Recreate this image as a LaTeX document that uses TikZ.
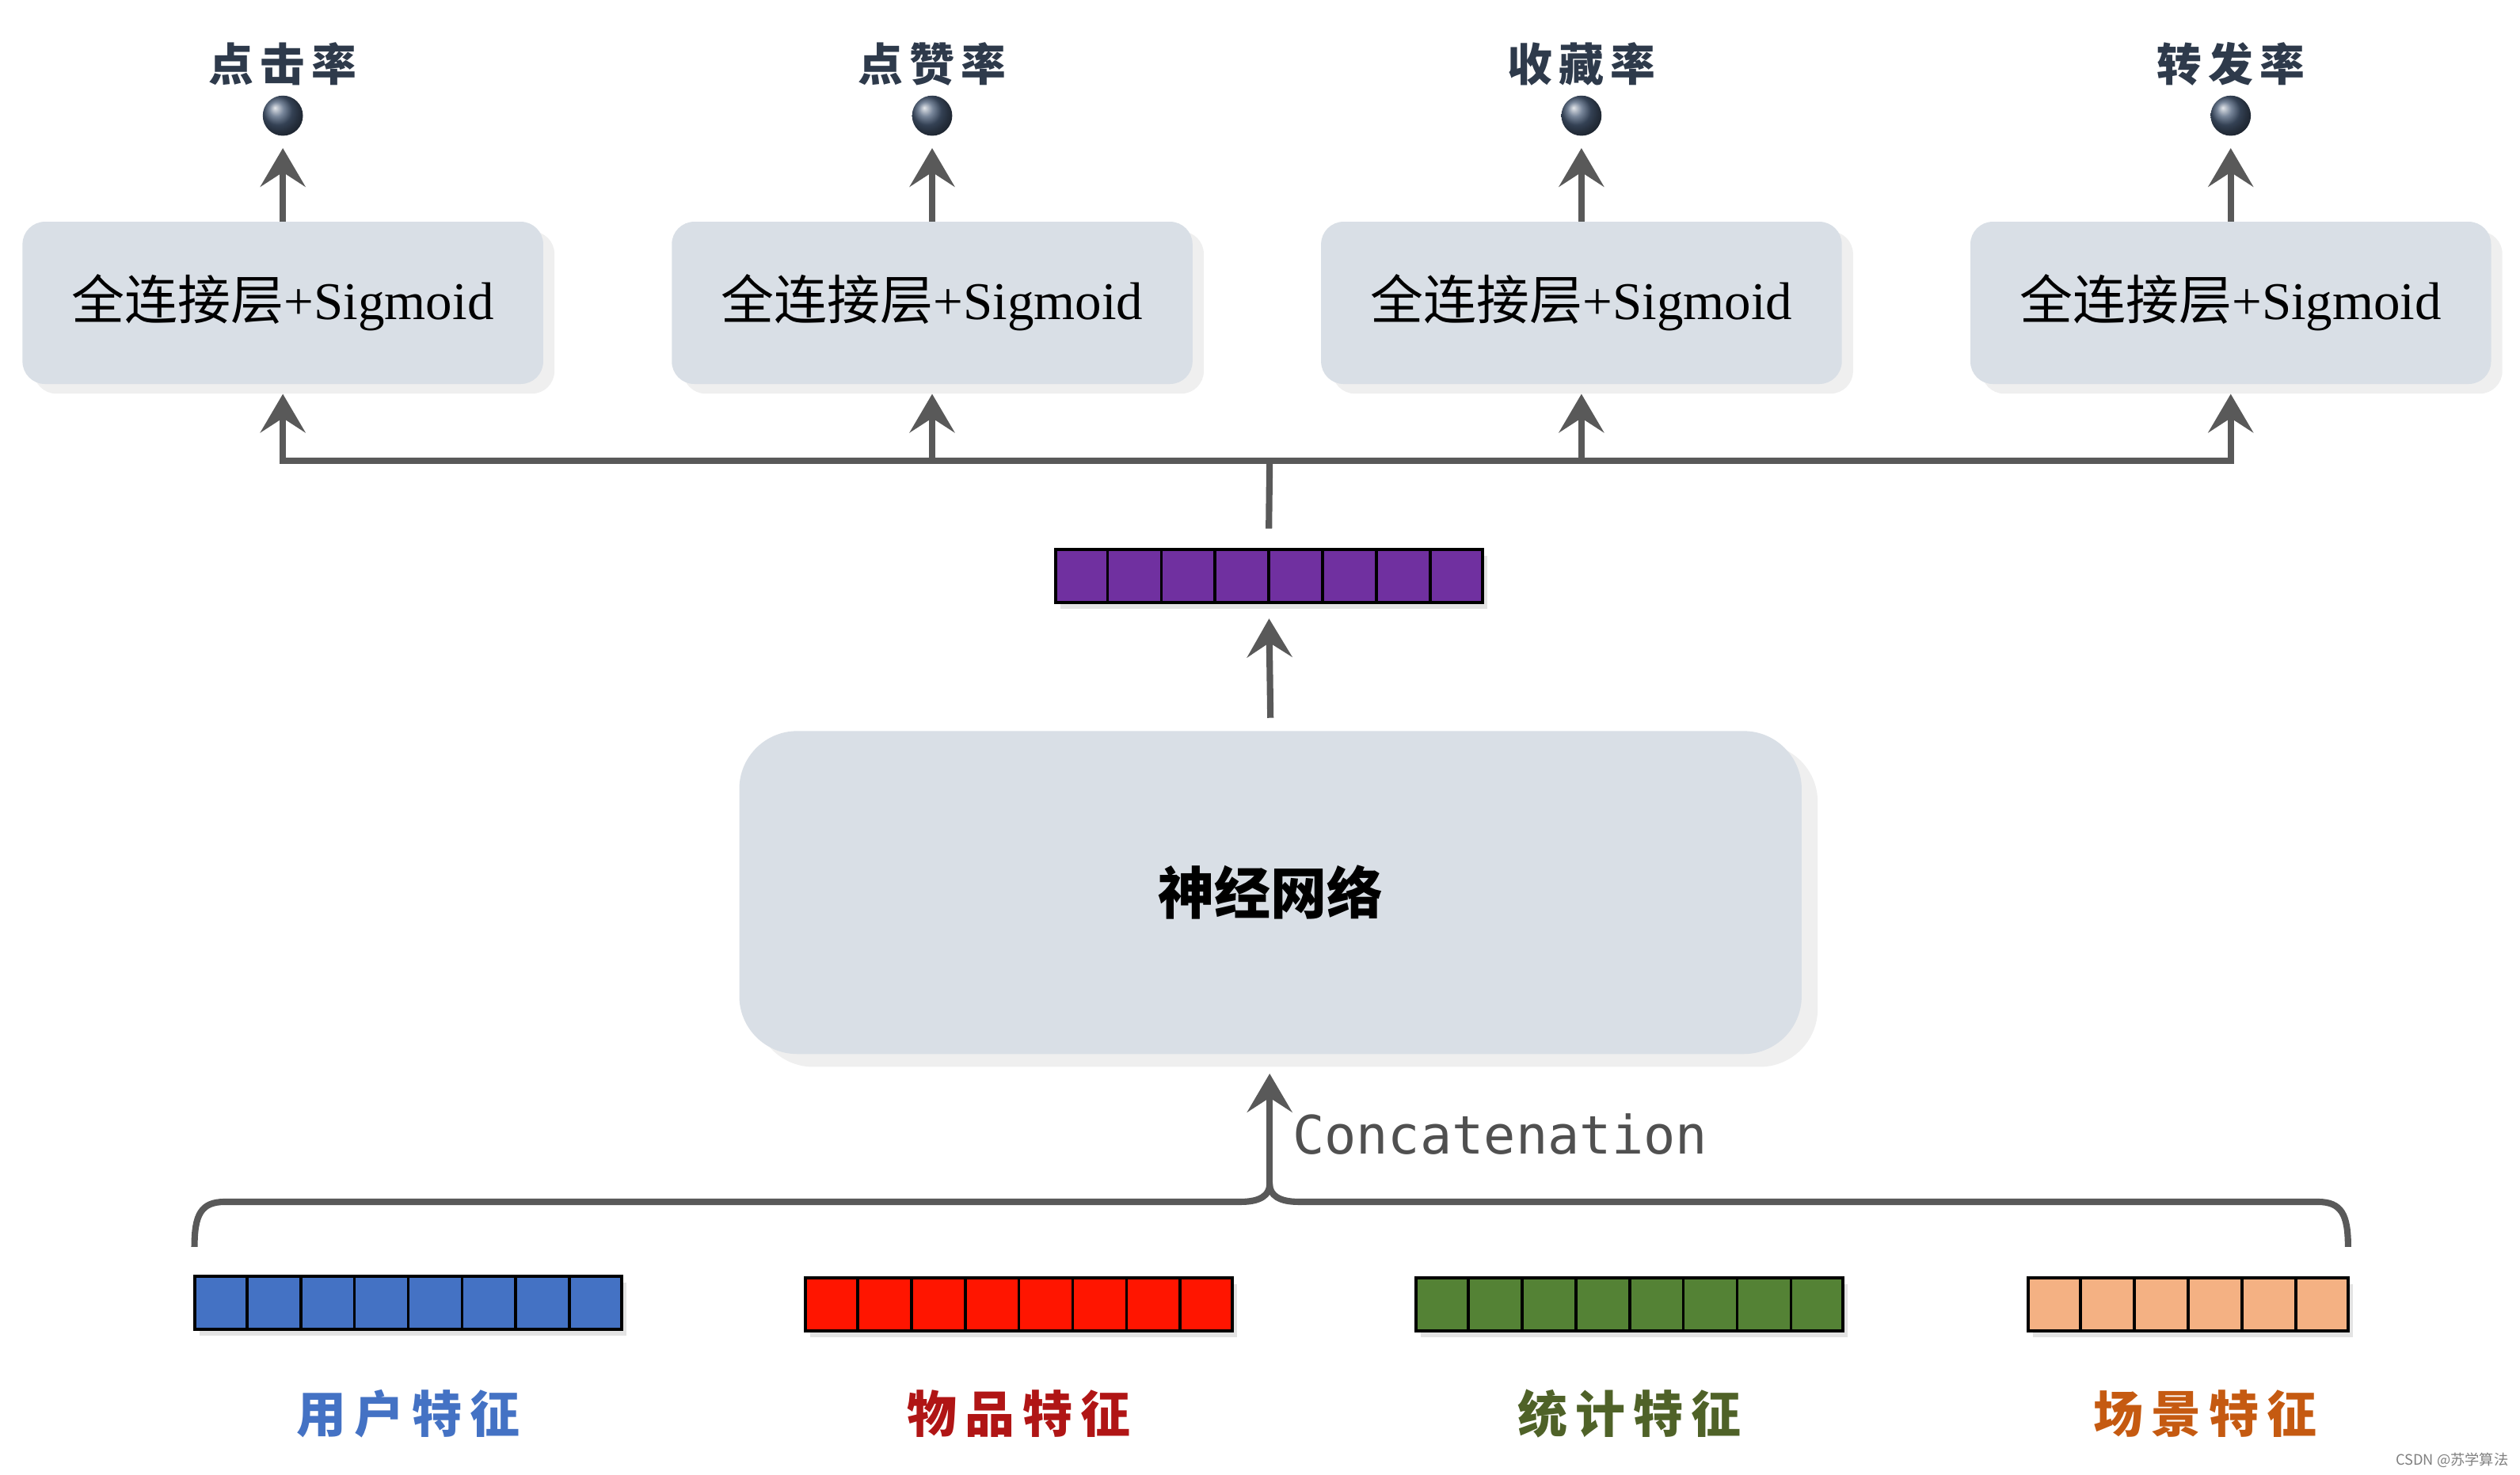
\documentclass[tikz,border=0pt]{standalone}
\usepackage{fontspec}
\setmainfont{Liberation Serif}
\newfontfamily\cjk{Noto Sans CJK SC}
\newfontfamily\monof{DejaVu Sans Mono}
\usetikzlibrary{arrows.meta,shadows,calc}
\definecolor{boxfill}{HTML}{D9DFE6}
\definecolor{arrgray}{HTML}{595959}
\definecolor{ballc}{HTML}{4A5D78}
\definecolor{toplab}{HTML}{2E3A4B}
\definecolor{vpurple}{HTML}{7030A0}
\definecolor{vblue}{HTML}{4472C4}
\definecolor{vred}{HTML}{FF1500}
\definecolor{vgreen}{HTML}{548235}
\definecolor{vorange}{HTML}{F4B183}
\definecolor{lblue}{HTML}{4472C4}
\definecolor{lred}{HTML}{B01515}
\definecolor{lgreen}{HTML}{4F6228}
\definecolor{lorange}{HTML}{C55A11}
\newcommand\featvec[5]{%
  \node[vecbox, fill=#5, minimum width=#4*33.2pt] (#1) at (#2,#3) {};
  \pgfmathtruncatemacro\nm{#4-1}
  \foreach \k in {1,...,\nm}{\draw[cellline] ($(#1.north west)!{\k/#4}!(#1.north east)$) -- ($(#1.south west)!{\k/#4}!(#1.south east)$);}
}
\begin{document}
\begin{tikzpicture}[x=1pt,y=1pt,
  fcbox/.style={fill=boxfill, rounded corners=14pt, minimum width=324pt, minimum height=101pt, inner sep=0pt,
    drop shadow={shadow xshift=7pt, shadow yshift=-6pt, opacity=0.12},
    font=\fontsize{33}{38}\selectfont},
  nnbox/.style={fill=boxfill, rounded corners=36pt, minimum width=661pt, minimum height=201pt, inner sep=0pt,
    drop shadow={shadow xshift=10pt, shadow yshift=-8pt, opacity=0.12},
    font=\cjk\bfseries\fontsize{35}{40}\selectfont},
  ball/.style={circle, minimum size=25pt, inner sep=0pt, shading=ball, ball color=ballc},
  toplabel/.style={font=\cjk\bfseries\fontsize{28}{32}\selectfont, text=toplab, inner sep=0pt},
  featlabel/.style={font=\cjk\bfseries\fontsize{31}{36}\selectfont, inner sep=0pt},
  vecbox/.style={draw=black, line width=2pt, minimum height=33pt, inner sep=0pt,
    drop shadow={shadow xshift=3pt, shadow yshift=-4pt, opacity=0.22}},
  cellline/.style={draw=black, line width=1.8pt},
  conn/.style={draw=arrgray, line width=4pt},
  arr/.style={conn, -{Stealth[length=24pt, width=28pt, inset=9pt]}}
]
\useasboundingbox (0,0) rectangle (1568,-918);
\fill[white] (0,0) rectangle (1568,-918);

% top output labels and balls
\foreach \i/\x/\t in {1/176/点\hspace{4pt}击\hspace{4pt}率, 2/580/点\hspace{4pt}赞\hspace{4pt}率, 3/984/收\hspace{4pt}藏\hspace{4pt}率, 4/1388/转\hspace{4pt}发\hspace{4pt}率}{
  \node[toplabel] (t\i) at (\x,-40) {\t};
  \node[ball] (o\i) at (\x,-72) {};
  \node[fcbox] (box\i) at (\x,-188.5) {{\cjk 全连接层}+Sigmoid};
  \coordinate (b\i) at (\x,-287);
}
\foreach \i in {1,...,4}{
  \draw[arr, shorten >=7.5pt] (box\i.north) -- (o\i.south);
  \draw[arr, shorten >=6pt] (b\i) -- (box\i.south);
}
\draw[conn, line cap=rect] (b1) -- (b4);
\coordinate (bmid) at (790,-287);

% hidden vector
\featvec{hv}{789.5}{-358.5}{8}{vpurple}
\draw[conn] (bmid) -- ([yshift=12pt]hv.north);

% neural network
\node[nnbox] (nn) at (790.5,-555.5) {神经网络};
\draw[arr, shorten >=9pt] ([yshift=8pt]nn.north) -- (hv.south);

% bracket and concatenation
\coordinate (bl) at (121,-776);
\coordinate (br) at (1461,-776);
\coordinate (bm) at (790,-737);
\draw[conn] (bl) .. controls (121,-756) and (125,-748) .. (140,-748) -- (772,-748)
  .. controls (784,-748) and (790,-744) .. (bm)
  .. controls (790,-744) and (796,-748) .. (808,-748) -- (1442,-748)
  .. controls (1457,-748) and (1461,-756) .. (br);
\draw[arr, shorten >=12pt] (bm) -- (bm |- nn.south);
\node[anchor=west, font=\monof\fontsize{33}{40}\selectfont, text=arrgray!90!black, inner sep=0pt] (cc) at (804,-706) {Concatenation};

% feature vectors
\featvec{fu}{254}{-811}{8}{vblue}
\featvec{fi}{634}{-812}{8}{vred}
\featvec{fs}{1014}{-812}{8}{vgreen}
\featvec{fc}{1361.5}{-812}{6}{vorange}

\node[featlabel, text=lblue] (lu) at (254,-880) {用\hspace{5pt}户\hspace{5pt}特\hspace{5pt}征};
\node[featlabel, text=lred] (li) at (634,-880) {物\hspace{5pt}品\hspace{5pt}特\hspace{5pt}征};
\node[featlabel, text=lgreen] (ls) at (1014,-880) {统\hspace{5pt}计\hspace{5pt}特\hspace{5pt}征};
\node[featlabel, text=lorange] (lc) at (1372,-880) {场\hspace{5pt}景\hspace{5pt}特\hspace{5pt}征};

\node[anchor=east, font=\cjk\fontsize{9}{10}\selectfont, text=gray, inner sep=0pt] (wm) at (1561,-909) {CSDN @苏学算法};
\end{tikzpicture}
\end{document}
